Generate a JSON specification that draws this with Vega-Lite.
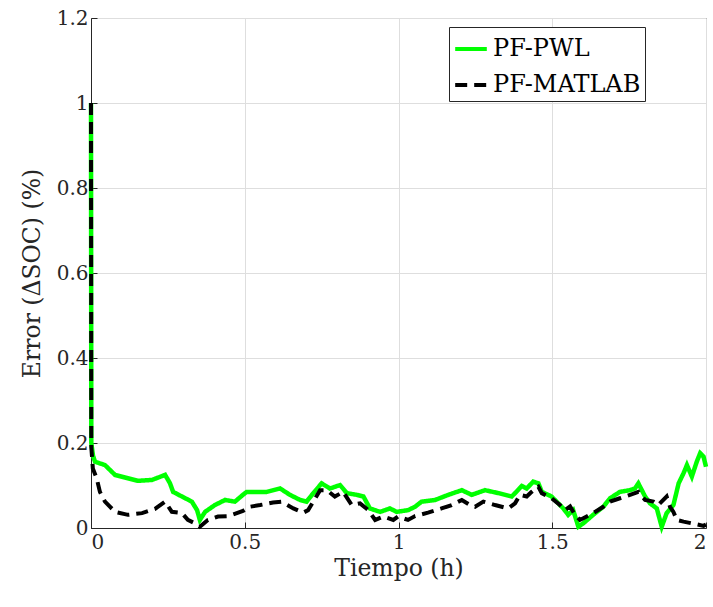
{
  "$schema": "https://vega.github.io/schema/vega-lite/v6.json",
  "width": 615,
  "height": 510,
  "autosize": "none",
  "padding": {"left": 91, "top": 18, "right": 7, "bottom": 79},
  "background": "white",
  "config": {
    "view": {"stroke": "#262626", "strokeWidth": 1},
    "font": "DejaVu Serif",
    "axis": {
      "labelFont": "DejaVu Serif",
      "titleFont": "DejaVu Serif",
      "labelFontSize": 20,
      "titleFontSize": 23.5,
      "titleFontWeight": "normal",
      "labelColor": "#262626",
      "titleColor": "#262626",
      "domainColor": "#262626",
      "tickColor": "#262626",
      "tickSize": -6,
      "gridColor": "#dedede",
      "gridWidth": 1
    }
  },
  "data": {
    "values": [
      {"t": 0, "v": 1.0, "s": "PF-PWL"},
      {"t": 0.001, "v": 0.2, "s": "PF-PWL"},
      {"t": 0.0065, "v": 0.17, "s": "PF-PWL"},
      {"t": 0.013, "v": 0.156, "s": "PF-PWL"},
      {"t": 0.0455, "v": 0.148, "s": "PF-PWL"},
      {"t": 0.078, "v": 0.125, "s": "PF-PWL"},
      {"t": 0.12, "v": 0.117, "s": "PF-PWL"},
      {"t": 0.153, "v": 0.111, "s": "PF-PWL"},
      {"t": 0.198, "v": 0.113, "s": "PF-PWL"},
      {"t": 0.241, "v": 0.125, "s": "PF-PWL"},
      {"t": 0.257, "v": 0.105, "s": "PF-PWL"},
      {"t": 0.267, "v": 0.085, "s": "PF-PWL"},
      {"t": 0.296, "v": 0.074, "s": "PF-PWL"},
      {"t": 0.328, "v": 0.062, "s": "PF-PWL"},
      {"t": 0.345, "v": 0.042, "s": "PF-PWL"},
      {"t": 0.354, "v": 0.019, "s": "PF-PWL"},
      {"t": 0.371, "v": 0.038, "s": "PF-PWL"},
      {"t": 0.403, "v": 0.054, "s": "PF-PWL"},
      {"t": 0.436, "v": 0.066, "s": "PF-PWL"},
      {"t": 0.468, "v": 0.062, "s": "PF-PWL"},
      {"t": 0.494, "v": 0.078, "s": "PF-PWL"},
      {"t": 0.506, "v": 0.085, "s": "PF-PWL"},
      {"t": 0.539, "v": 0.085, "s": "PF-PWL"},
      {"t": 0.571, "v": 0.085, "s": "PF-PWL"},
      {"t": 0.615, "v": 0.093, "s": "PF-PWL"},
      {"t": 0.647, "v": 0.078, "s": "PF-PWL"},
      {"t": 0.68, "v": 0.066, "s": "PF-PWL"},
      {"t": 0.701, "v": 0.062, "s": "PF-PWL"},
      {"t": 0.723, "v": 0.082, "s": "PF-PWL"},
      {"t": 0.75, "v": 0.105, "s": "PF-PWL"},
      {"t": 0.777, "v": 0.093, "s": "PF-PWL"},
      {"t": 0.81, "v": 0.101, "s": "PF-PWL"},
      {"t": 0.832, "v": 0.082, "s": "PF-PWL"},
      {"t": 0.864, "v": 0.078, "s": "PF-PWL"},
      {"t": 0.886, "v": 0.074, "s": "PF-PWL"},
      {"t": 0.907, "v": 0.046, "s": "PF-PWL"},
      {"t": 0.94, "v": 0.038, "s": "PF-PWL"},
      {"t": 0.972, "v": 0.046, "s": "PF-PWL"},
      {"t": 0.994, "v": 0.038, "s": "PF-PWL"},
      {"t": 1.031, "v": 0.042, "s": "PF-PWL"},
      {"t": 1.054, "v": 0.05, "s": "PF-PWL"},
      {"t": 1.075, "v": 0.062, "s": "PF-PWL"},
      {"t": 1.119, "v": 0.066, "s": "PF-PWL"},
      {"t": 1.162, "v": 0.078, "s": "PF-PWL"},
      {"t": 1.206, "v": 0.089, "s": "PF-PWL"},
      {"t": 1.238, "v": 0.078, "s": "PF-PWL"},
      {"t": 1.281, "v": 0.089, "s": "PF-PWL"},
      {"t": 1.325, "v": 0.082, "s": "PF-PWL"},
      {"t": 1.368, "v": 0.074, "s": "PF-PWL"},
      {"t": 1.379, "v": 0.082, "s": "PF-PWL"},
      {"t": 1.401, "v": 0.099, "s": "PF-PWL"},
      {"t": 1.417, "v": 0.093, "s": "PF-PWL"},
      {"t": 1.438, "v": 0.109, "s": "PF-PWL"},
      {"t": 1.455, "v": 0.105, "s": "PF-PWL"},
      {"t": 1.466, "v": 0.085, "s": "PF-PWL"},
      {"t": 1.498, "v": 0.074, "s": "PF-PWL"},
      {"t": 1.514, "v": 0.062, "s": "PF-PWL"},
      {"t": 1.536, "v": 0.046, "s": "PF-PWL"},
      {"t": 1.552, "v": 0.031, "s": "PF-PWL"},
      {"t": 1.568, "v": 0.042, "s": "PF-PWL"},
      {"t": 1.585, "v": 0.003, "s": "PF-PWL"},
      {"t": 1.601, "v": 0.011, "s": "PF-PWL"},
      {"t": 1.633, "v": 0.031, "s": "PF-PWL"},
      {"t": 1.666, "v": 0.05, "s": "PF-PWL"},
      {"t": 1.688, "v": 0.07, "s": "PF-PWL"},
      {"t": 1.72, "v": 0.085, "s": "PF-PWL"},
      {"t": 1.753, "v": 0.089, "s": "PF-PWL"},
      {"t": 1.769, "v": 0.093, "s": "PF-PWL"},
      {"t": 1.78, "v": 0.105, "s": "PF-PWL"},
      {"t": 1.802, "v": 0.074, "s": "PF-PWL"},
      {"t": 1.818, "v": 0.058, "s": "PF-PWL"},
      {"t": 1.84, "v": 0.046, "s": "PF-PWL"},
      {"t": 1.856, "v": 0.003, "s": "PF-PWL"},
      {"t": 1.872, "v": 0.035, "s": "PF-PWL"},
      {"t": 1.894, "v": 0.054, "s": "PF-PWL"},
      {"t": 1.911, "v": 0.105, "s": "PF-PWL"},
      {"t": 1.927, "v": 0.129, "s": "PF-PWL"},
      {"t": 1.938, "v": 0.148, "s": "PF-PWL"},
      {"t": 1.954, "v": 0.121, "s": "PF-PWL"},
      {"t": 1.97, "v": 0.156, "s": "PF-PWL"},
      {"t": 1.981, "v": 0.176, "s": "PF-PWL"},
      {"t": 1.992, "v": 0.168, "s": "PF-PWL"},
      {"t": 2.0, "v": 0.144, "s": "PF-PWL"},
      {"t": 0, "v": 1.0, "s": "PF-MATLAB"},
      {"t": 0.001, "v": 0.19, "s": "PF-MATLAB"},
      {"t": 0.006, "v": 0.14, "s": "PF-MATLAB"},
      {"t": 0.0185, "v": 0.117, "s": "PF-MATLAB"},
      {"t": 0.029, "v": 0.085, "s": "PF-MATLAB"},
      {"t": 0.0455, "v": 0.062, "s": "PF-MATLAB"},
      {"t": 0.078, "v": 0.038, "s": "PF-MATLAB"},
      {"t": 0.12, "v": 0.031, "s": "PF-MATLAB"},
      {"t": 0.166, "v": 0.035, "s": "PF-MATLAB"},
      {"t": 0.208, "v": 0.045, "s": "PF-MATLAB"},
      {"t": 0.241, "v": 0.062, "s": "PF-MATLAB"},
      {"t": 0.263, "v": 0.038, "s": "PF-MATLAB"},
      {"t": 0.296, "v": 0.035, "s": "PF-MATLAB"},
      {"t": 0.315, "v": 0.019, "s": "PF-MATLAB"},
      {"t": 0.338, "v": 0.011, "s": "PF-MATLAB"},
      {"t": 0.354, "v": 0.003, "s": "PF-MATLAB"},
      {"t": 0.38, "v": 0.019, "s": "PF-MATLAB"},
      {"t": 0.413, "v": 0.027, "s": "PF-MATLAB"},
      {"t": 0.446, "v": 0.028, "s": "PF-MATLAB"},
      {"t": 0.494, "v": 0.04, "s": "PF-MATLAB"},
      {"t": 0.517, "v": 0.05, "s": "PF-MATLAB"},
      {"t": 0.55, "v": 0.054, "s": "PF-MATLAB"},
      {"t": 0.592, "v": 0.06, "s": "PF-MATLAB"},
      {"t": 0.62, "v": 0.062, "s": "PF-MATLAB"},
      {"t": 0.658, "v": 0.046, "s": "PF-MATLAB"},
      {"t": 0.69, "v": 0.036, "s": "PF-MATLAB"},
      {"t": 0.706, "v": 0.042, "s": "PF-MATLAB"},
      {"t": 0.723, "v": 0.062, "s": "PF-MATLAB"},
      {"t": 0.745, "v": 0.089, "s": "PF-MATLAB"},
      {"t": 0.767, "v": 0.089, "s": "PF-MATLAB"},
      {"t": 0.793, "v": 0.074, "s": "PF-MATLAB"},
      {"t": 0.82, "v": 0.085, "s": "PF-MATLAB"},
      {"t": 0.848, "v": 0.054, "s": "PF-MATLAB"},
      {"t": 0.875, "v": 0.058, "s": "PF-MATLAB"},
      {"t": 0.902, "v": 0.042, "s": "PF-MATLAB"},
      {"t": 0.924, "v": 0.019, "s": "PF-MATLAB"},
      {"t": 0.951, "v": 0.027, "s": "PF-MATLAB"},
      {"t": 0.983, "v": 0.019, "s": "PF-MATLAB"},
      {"t": 0.998, "v": 0.027, "s": "PF-MATLAB"},
      {"t": 1.031, "v": 0.019, "s": "PF-MATLAB"},
      {"t": 1.054, "v": 0.028, "s": "PF-MATLAB"},
      {"t": 1.096, "v": 0.036, "s": "PF-MATLAB"},
      {"t": 1.14, "v": 0.046, "s": "PF-MATLAB"},
      {"t": 1.173, "v": 0.054, "s": "PF-MATLAB"},
      {"t": 1.206, "v": 0.066, "s": "PF-MATLAB"},
      {"t": 1.233, "v": 0.054, "s": "PF-MATLAB"},
      {"t": 1.249, "v": 0.05, "s": "PF-MATLAB"},
      {"t": 1.276, "v": 0.062, "s": "PF-MATLAB"},
      {"t": 1.314, "v": 0.054, "s": "PF-MATLAB"},
      {"t": 1.357, "v": 0.046, "s": "PF-MATLAB"},
      {"t": 1.379, "v": 0.058, "s": "PF-MATLAB"},
      {"t": 1.395, "v": 0.078, "s": "PF-MATLAB"},
      {"t": 1.417, "v": 0.074, "s": "PF-MATLAB"},
      {"t": 1.433, "v": 0.085, "s": "PF-MATLAB"},
      {"t": 1.455, "v": 0.097, "s": "PF-MATLAB"},
      {"t": 1.466, "v": 0.082, "s": "PF-MATLAB"},
      {"t": 1.498, "v": 0.07, "s": "PF-MATLAB"},
      {"t": 1.525, "v": 0.054, "s": "PF-MATLAB"},
      {"t": 1.541, "v": 0.042, "s": "PF-MATLAB"},
      {"t": 1.558, "v": 0.051, "s": "PF-MATLAB"},
      {"t": 1.574, "v": 0.031, "s": "PF-MATLAB"},
      {"t": 1.59, "v": 0.019, "s": "PF-MATLAB"},
      {"t": 1.601, "v": 0.023, "s": "PF-MATLAB"},
      {"t": 1.633, "v": 0.035, "s": "PF-MATLAB"},
      {"t": 1.666, "v": 0.05, "s": "PF-MATLAB"},
      {"t": 1.688, "v": 0.062, "s": "PF-MATLAB"},
      {"t": 1.72, "v": 0.07, "s": "PF-MATLAB"},
      {"t": 1.753, "v": 0.078, "s": "PF-MATLAB"},
      {"t": 1.78, "v": 0.085, "s": "PF-MATLAB"},
      {"t": 1.802, "v": 0.066, "s": "PF-MATLAB"},
      {"t": 1.829, "v": 0.062, "s": "PF-MATLAB"},
      {"t": 1.845, "v": 0.054, "s": "PF-MATLAB"},
      {"t": 1.872, "v": 0.074, "s": "PF-MATLAB"},
      {"t": 1.883, "v": 0.05, "s": "PF-MATLAB"},
      {"t": 1.894, "v": 0.038, "s": "PF-MATLAB"},
      {"t": 1.905, "v": 0.019, "s": "PF-MATLAB"},
      {"t": 1.927, "v": 0.015, "s": "PF-MATLAB"},
      {"t": 1.967, "v": 0.009, "s": "PF-MATLAB"},
      {"t": 1.992, "v": 0.005, "s": "PF-MATLAB"},
      {"t": 2.0, "v": 0.008, "s": "PF-MATLAB"}
    ]
  },
  "encoding": {
    "x": {
      "field": "t", "type": "quantitative",
      "scale": {"domain": [0, 2], "nice": false},
      "axis": {"values": [0, 0.5, 1, 1.5, 2], "format": "~g", "title": "Tiempo (h)", "labelPadding": 10, "titlePadding": 4}
    },
    "y": {
      "field": "v", "type": "quantitative",
      "scale": {"domain": [0, 1.2], "nice": false},
      "axis": {"values": [0, 0.2, 0.4, 0.6, 0.8, 1, 1.2], "format": "~g", "title": "Error (ΔSOC) (%)", "labelPadding": 9, "titlePadding": 12}
    },
    "color": {
      "field": "s", "type": "nominal",
      "scale": {"domain": ["PF-PWL", "PF-MATLAB"], "range": ["#00ff00", "#000000"]},
      "legend": {
        "title": null,
        "orient": "none",
        "legendX": 358,
        "legendY": 9,
        "direction": "vertical",
        "fillColor": "white",
        "strokeColor": "#262626",
        "padding": 4,
        "labelFont": "DejaVu Serif",
        "labelFontSize": 24,
        "labelColor": "#000000",
        "labelOffset": 4,
        "symbolType": "stroke",
        "symbolStrokeWidth": 4,
        "symbolSize": 1000,
        "rowPadding": 6,
        "labelLimit": 300
      }
    },
    "strokeDash": {
      "field": "s", "type": "nominal",
      "scale": {"domain": ["PF-PWL", "PF-MATLAB"], "range": [[1, 0], [12, 7]]},
      "legend": null
    }
  },
  "layer": [
    {
      "transform": [{"filter": "datum.s === 'PF-PWL'"}],
      "mark": {"type": "line", "strokeWidth": 4.5, "clip": false}
    },
    {
      "transform": [{"filter": "datum.s === 'PF-MATLAB'"}],
      "mark": {"type": "line", "strokeWidth": 4, "clip": false}
    }
  ]
}
